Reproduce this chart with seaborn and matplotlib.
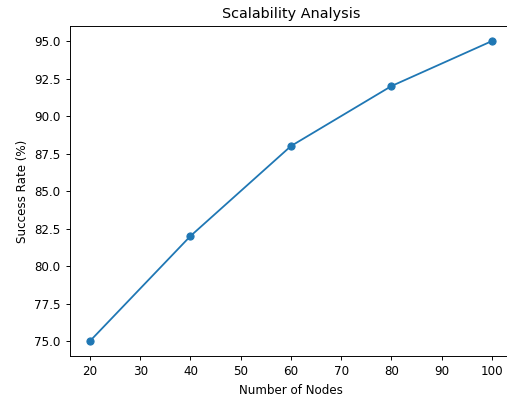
import matplotlib
matplotlib.use('Agg')
import matplotlib.pyplot as plt
import seaborn as sns
import pandas as pd

# Данные
nodes = [20, 40, 60, 80, 100]
success_rate = [75, 82, 88, 92, 95]

df = pd.DataFrame({'nodes': nodes, 'success': success_rate})

s = 0.86
plt.rcParams.update({
    'font.size': 10 * s,
    'axes.titlesize': 12 * s,
    'axes.linewidth': 0.8 * s,
    'xtick.major.size': 3.5 * s,
    'ytick.major.size': 3.5 * s,
    'xtick.major.width': 0.8 * s,
    'ytick.major.width': 0.8 * s,
})

fig = plt.figure(figsize=(5.07, 3.98), dpi=100)
ax = fig.add_axes([0.1379, 0.1055, 0.872, 0.829])
sns.lineplot(data=df, x='nodes', y='success', marker='o', color='#1f77b4',
             markeredgecolor='#1f77b4', markersize=6 * s, linewidth=1.5 * s, ax=ax)
ax.set_xlabel('Number of Nodes')
ax.set_ylabel('Success Rate (%)')
ax.set_title('Scalability Analysis')
ax.set_xticks(range(20, 101, 10))
ax.set_yticks([75 + 2.5 * i for i in range(9)])
ax.set_xlim(16, 104)
ax.set_ylim(74, 96)
plt.savefig('out.png', dpi=100)
